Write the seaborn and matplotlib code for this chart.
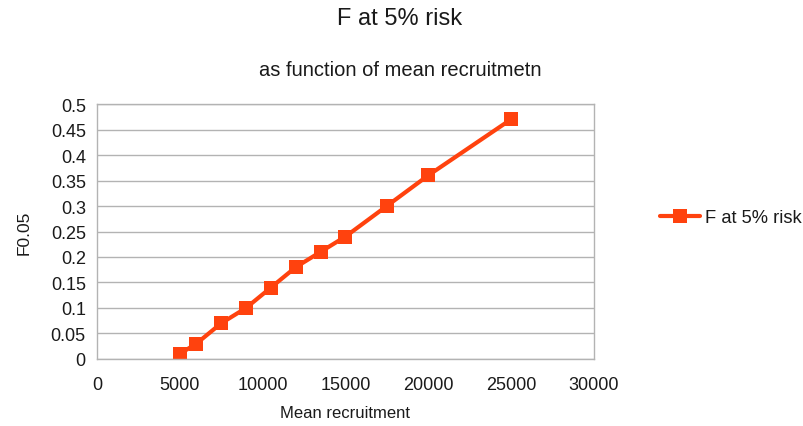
import matplotlib
matplotlib.use("Agg")
import matplotlib.pyplot as plt
import seaborn as sns
import pandas as pd

# Mean recruitment vs. fishing mortality at 5% risk
recruitment = [5000, 6000, 7500, 9000, 10500, 12000, 13500, 15000, 17500, 20000, 25000]
f_risk = [0.01, 0.03, 0.07, 0.10, 0.14, 0.18, 0.21, 0.24, 0.30, 0.36, 0.47]
series_name = "F at 5% risk"

x_ticks = [0, 5000, 10000, 15000, 20000, 25000, 30000]
y_ticks = [0, 0.05, 0.1, 0.15, 0.2, 0.25, 0.3, 0.35, 0.4, 0.45, 0.5]
y_tick_labels = ["0", "0.05", "0.1", "0.15", "0.2", "0.25", "0.3", "0.35", "0.4", "0.45", "0.5"]

df = pd.DataFrame({"Mean recruitment": recruitment, "F0.05": f_risk, "series": series_name})

sns.set_style("white")
plt.rcParams["font.family"] = ["Liberation Sans", "DejaVu Sans"]

fig = plt.figure(figsize=(8.04, 4.27), dpi=100)
ax = fig.add_axes([0.1206, 0.157, 0.618, 0.597])

orange = "#FF420E"
grid_c = "#b3b3b3"
text_c = "#1a1a1a"

sns.lineplot(data=df, x="Mean recruitment", y="F0.05", hue="series",
             palette=[orange], marker="s", markersize=9.5, markeredgewidth=0,
             linewidth=3, ax=ax)

ax.set_xlim(0, 30000)
ax.set_ylim(0, 0.5)
ax.set_xticks(x_ticks)
ax.set_xticklabels([str(t) for t in x_ticks])
ax.set_yticks(y_ticks)
ax.set_yticklabels(y_tick_labels)
ax.yaxis.grid(True, color=grid_c, linewidth=1)
ax.set_axisbelow(True)
for s in ax.spines.values():
    s.set_color(grid_c)
    s.set_linewidth(1)
ax.tick_params(axis="both", direction="out", length=5, width=1, color=grid_c,
               labelsize=13, labelcolor=text_c)
ax.tick_params(axis="x", pad=7)
ax.tick_params(axis="y", pad=3)

ax.set_xlabel("Mean recruitment", fontsize=12, color=text_c, labelpad=9)
ax.set_ylabel("F0.05", fontsize=12.5, color=text_c, labelpad=14)

fig.text(0.4975, 0.955, "F at 5% risk", ha="center", va="center", fontsize=17, color=text_c)
fig.text(0.4975, 0.835, "as function of mean recruitmetn", ha="center", va="center", fontsize=14.5, color=text_c)

leg = ax.legend(loc="center left", bbox_to_anchor=(1.1, 0.555), frameon=False,
                fontsize=13.2, handlelength=2.2, handletextpad=0.25)
for t in leg.get_texts():
    t.set_color(text_c)

fig.savefig("out.png", dpi=100)
